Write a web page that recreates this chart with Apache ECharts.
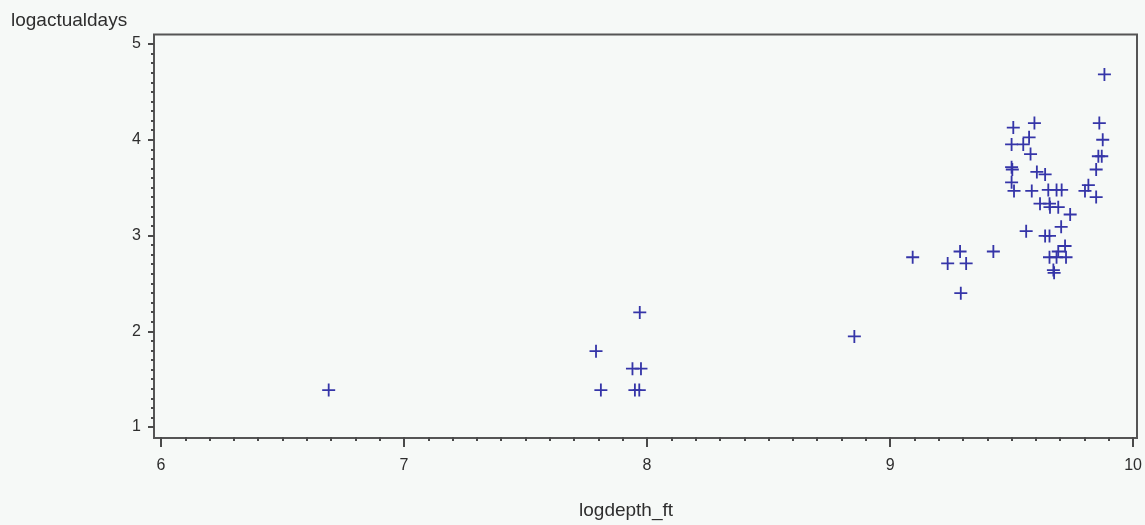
<!DOCTYPE html>
<html>
<head>
<meta charset="utf-8">
<script src="https://cdn.jsdelivr.net/npm/echarts@6/dist/echarts.min.js"></script>
<style>
  html, body { margin: 0; padding: 0; background: #f6f9f7; }
  #chart { width: 1145px; height: 525px; }
</style>
</head>
<body>
<div id="chart"></div>
<script>
// Data
const logdepth_ft = [
  6.69, 7.79, 7.81, 7.97, 7.94, 7.975, 7.95, 7.968, 8.853,
  9.093, 9.288, 9.237, 9.313, 9.425, 9.291,
  9.882, 9.507, 9.594, 9.861, 9.500, 9.548, 9.572, 9.875, 9.578, 9.857, 9.871,
  9.500, 9.503, 9.604, 9.638, 9.848, 9.500, 9.510, 9.583, 9.816, 9.802, 9.848,
  9.651, 9.685, 9.706, 9.617, 9.656, 9.658, 9.692, 9.741, 9.704, 9.560,
  9.638, 9.656, 9.720, 9.692, 9.656, 9.685, 9.724, 9.672, 9.675
];
const logactualdays = [
  1.386, 1.792, 1.386, 2.197, 1.609, 1.609, 1.386, 1.386, 1.946,
  2.773, 2.833, 2.708, 2.708, 2.833, 2.398,
  4.682, 4.127, 4.174, 4.174, 3.951, 3.951, 4.025, 4.000, 3.850, 3.828, 3.828,
  3.714, 3.689, 3.664, 3.638, 3.689, 3.555, 3.466, 3.466, 3.526, 3.466, 3.401,
  3.476, 3.476, 3.476, 3.332, 3.332, 3.296, 3.296, 3.219, 3.091, 3.045,
  2.996, 2.996, 2.890, 2.833, 2.773, 2.773, 2.773, 2.639, 2.610
];
const xTicks = [6, 7, 8, 9, 10];
const yTicks = [1, 2, 3, 4, 5];
const xTitle = 'logdepth_ft';
const yTitle = 'logactualdays';

const points = logdepth_ft.map((x, i) => [x, logactualdays[i]]);

const chart = echarts.init(document.getElementById('chart'), null, { renderer: 'canvas' });
const FONT = 'Liberation Sans, Arial, sans-serif';
const AXIS_COLOR = '#4a4a4a';
const TEXT_COLOR = '#2e2e2e';

chart.setOption({
  backgroundColor: '#f6f9f7',
  animation: false,
  title: {
    text: yTitle,
    left: 11,
    top: 11,
    padding: 0,
    textStyle: { fontFamily: FONT, fontSize: 19, fontWeight: 'normal', color: TEXT_COLOR }
  },
  graphic: [{
    type: 'rect',
    silent: true,
    z: 0,
    shape: { x: 154, y: 34.5, width: 983, height: 403.5 },
    style: { fill: 'none', stroke: '#555', lineWidth: 2 }
  }],
  grid: { left: 161, right: 11, top: 44, bottom: 97 },
  xAxis: {
    type: 'value',
    min: xTicks[0],
    max: xTicks[xTicks.length - 1],
    interval: 1,
    offset: 10,
    name: xTitle,
    nameLocation: 'middle',
    nameGap: 64,
    nameTextStyle: { fontFamily: FONT, fontSize: 19, color: TEXT_COLOR, padding: [0, 42, 0, 0] },
    axisLine: { show: false, onZero: false },
    axisTick: { show: true, length: 10, lineStyle: { color: AXIS_COLOR, width: 2 } },
    minorTick: { show: true, splitNumber: 10, length: 4, lineStyle: { color: AXIS_COLOR, width: 2 } },
    axisLabel: { margin: 21, fontFamily: FONT, fontSize: 16, color: TEXT_COLOR },
    splitLine: { show: false }
  },
  yAxis: {
    type: 'value',
    min: yTicks[0],
    max: yTicks[yTicks.length - 1],
    interval: 1,
    offset: 7,
    axisLine: { show: false, onZero: false },
    axisTick: { show: true, length: 6, lineStyle: { color: AXIS_COLOR, width: 2 } },
    minorTick: { show: true, splitNumber: 10, length: 3, lineStyle: { color: AXIS_COLOR, width: 2 } },
    axisLabel: { margin: 13, fontFamily: FONT, fontSize: 16, color: TEXT_COLOR },
    splitLine: { show: false }
  },
  series: [{
    type: 'scatter',
    data: points,
    symbol: 'path://M4.3,0H5.7V4.3H10V5.7H5.7V10H4.3V5.7H0V4.3H4.3Z',
    symbolSize: 13,
    itemStyle: { color: '#3535a8', opacity: 1 },
    z: 3
  }]
});
</script>
</body>
</html>
